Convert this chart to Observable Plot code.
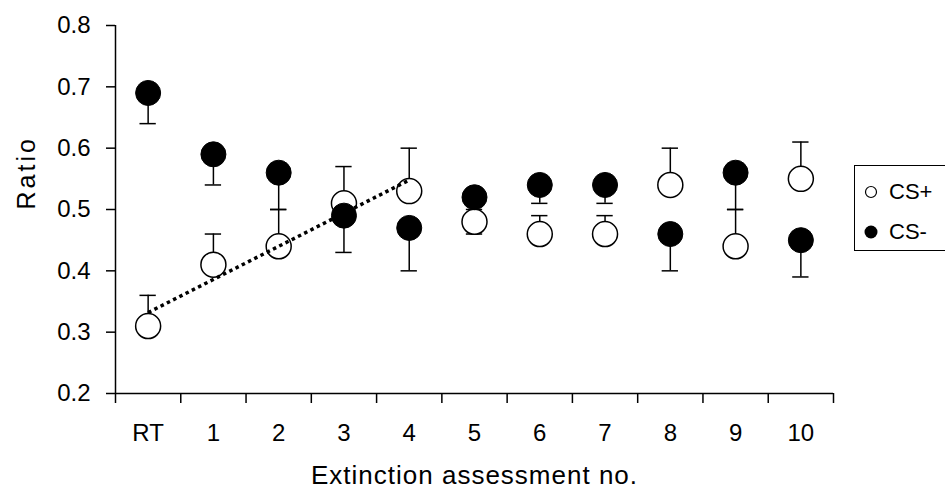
<!DOCTYPE html>
<html>
<head>
<meta charset="utf-8">
<script src="https://cdn.jsdelivr.net/npm/d3@7"></script>
<script src="https://cdn.jsdelivr.net/npm/@observablehq/plot@0.6"></script>
<style>
  html, body { margin: 0; padding: 0; background: #fff; }
  #wrap { position: relative; width: 945px; height: 498px; overflow: hidden; font-family: "Liberation Sans", Arial, sans-serif; }
  #legend { position: absolute; left: 854px; top: 165px; width: 110px; height: 86px; border: 1.5px solid #000; box-sizing: border-box; background: #fff; }
  .sym { position: absolute; left: 8px; }
  .lab { position: absolute; left: 34px; font-size: 22px; line-height: 22px; color: #000; }
</style>
</head>
<body>
<div id="wrap">
  <div id="chart"></div>
  <div id="legend">
    <svg class="sym" style="top:18px" width="16" height="16"><circle cx="8" cy="8" r="5.5" fill="#fff" stroke="#000" stroke-width="1.2"/></svg>
    <div class="lab" style="top:15px">CS+</div>
    <svg class="sym" style="top:58px" width="16" height="16"><circle cx="8" cy="8" r="6.5" fill="#000"/></svg>
    <div class="lab" style="top:55px">CS-</div>
  </div>
</div>
<script>
const categories = ["RT","1","2","3","4","5","6","7","8","9","10"];
const csPlus      = [0.31,0.41,0.44,0.51,0.53,0.48,0.46,0.46,0.54,0.44,0.55];
const csPlusErr   = [0.36,0.46,0.50,0.57,0.60,0.50,0.49,0.49,0.60,0.50,0.61];
const csMinus     = [0.69,0.59,0.56,0.49,0.47,0.52,0.54,0.54,0.46,0.56,0.45];
const csMinusErr  = [0.64,0.54,0.50,0.43,0.40,0.46,0.51,0.51,0.40,0.50,0.39];
const yTicks = [0.2,0.3,0.4,0.5,0.6,0.7,0.8];
const trendCount = 5; // linear trend over CS+ RT..4

const plus = categories.map((c,i) => ({i, c, v: csPlus[i], e: csPlusErr[i]}));
const minus = categories.map((c,i) => ({i, c, v: csMinus[i], e: csMinusErr[i]}));
const all = plus.concat(minus);
const trend = plus.slice(0, trendCount);
const cats = categories.map((c,i) => ({i, c}));
const boundaries = d3.range(-0.5, categories.length, 1);
const capHalf = 0.125;
const x0 = -0.5, x1 = categories.length - 0.5;

const chart = Plot.plot({
  width: 945,
  height: 498,
  marginLeft: 115,
  marginRight: 112,
  marginTop: 25,
  marginBottom: 105,
  style: {fontFamily: "'Liberation Sans', Arial, sans-serif", fontSize: "24px", color: "#000", background: "#fff"},
  x: {domain: [x0, x1]},
  y: {domain: [0.2, 0.8]},
  marks: [
    Plot.axisY({ticks: yTicks, tickSize: 9, tickFormat: () => "", label: null, strokeWidth: 1.5}),
    Plot.axisX({ticks: boundaries, tickSize: 10, tickFormat: () => "", label: null, strokeWidth: 1.5}),
    Plot.text(yTicks, {x: x0, y: d => d, dx: -25, textAnchor: "end", text: d3.format(".1f"), fontSize: 24}),
    Plot.text(cats, {x: "i", y: 0.2, dy: 40, text: "c", fontSize: 24}),
    Plot.ruleX([x0], {y1: 0.2, y2: 0.8, strokeWidth: 1.5}),
    Plot.ruleY([0.2], {x1: x0, x2: x1, strokeWidth: 1.5}),
    Plot.ruleX(all, {x: "i", y1: "v", y2: "e", strokeWidth: 1.5}),
    Plot.ruleY(all, {y: "e", x1: d => d.i - capHalf, x2: d => d.i + capHalf, strokeWidth: 1.5}),
    Plot.dot(plus, {x: "i", y: "v", r: 12.5, fill: "#fff", stroke: "#000", strokeWidth: 1.5}),
    Plot.dot(minus, {x: "i", y: "v", r: 12.5, fill: "#000", stroke: "#000", strokeWidth: 1}),
    Plot.linearRegressionY(trend, {x: "i", y: "v", ci: 0, stroke: "#000", strokeWidth: 3.5, strokeDasharray: "3.5 3.5", strokeLinecap: "butt"}),
    Plot.text(["Ratio"], {frameAnchor: "left", dx: -89, rotate: -90, fontSize: 25}),
    Plot.text(["Extinction assessment no."], {frameAnchor: "bottom", dy: 90, fontSize: 26})
  ]
});
d3.select(chart).selectAll("text").filter(function() { return this.textContent === "Ratio"; }).attr("letter-spacing", "3px");
d3.select(chart).selectAll("text").filter(function() { return this.textContent === "Extinction assessment no."; }).attr("letter-spacing", "1px");
document.getElementById("chart").appendChild(chart);
</script>
</body>
</html>
